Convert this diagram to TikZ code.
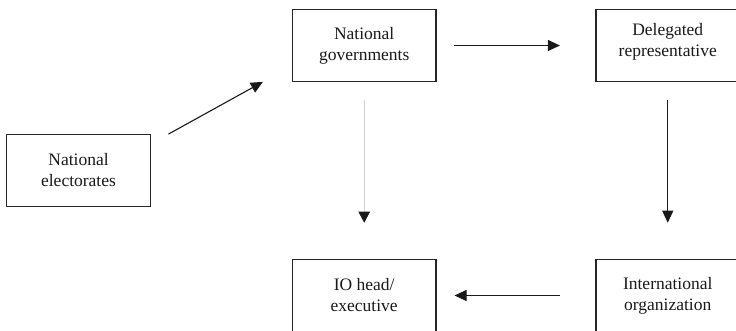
\documentclass[tikz,border=0pt]{standalone}
\usepackage{fontspec}
\setmainfont{Liberation Serif}
\usetikzlibrary{arrows.meta}
\begin{document}
\begin{tikzpicture}[x=1pt,y=-1pt,
  box/.style={draw=black!85, line width=1.2pt, minimum width=143.5pt, minimum height=71.6pt,
    inner sep=0pt, align=center, font=\fontsize{17.5pt}{21pt}\selectfont, text=black!90},
  arr/.style={line width=1.1pt, draw=black!90, -{Triangle[length=12pt,width=11pt]}},
  faint/.style={line width=0.8pt, draw=black!18, -{Triangle[length=11pt,width=11.5pt,color=black!90,fill=black!90]}}]
\useasboundingbox (0,0) rectangle (736,330);
% boxes
\node[box] (NE)  at (78.5,170.5)  {National\\electorates};
\node[box] (NG)  at (364.2,45.5)  {National\\governments};
\node[box, text depth=11.8pt] (DR) at (667.75,45.5) {Delegated\\representative};
\node[box] (IOH) at (364.2,295.5) {IO head/\\executive};
\node[box] (IO)  at (667.75,295.5) {International\\organization};
% connector end points off the box corners
\coordinate (neOut) at ([xshift=17.6pt]NE.north east);
\coordinate (ngIn)  at ([xshift=-29pt]NG.south west);
% connectors
\draw[arr] (neOut) -- (ngIn);
\draw[arr] ([xshift=17pt]NG.east) -- ([xshift=-35.5pt]DR.west);
\draw[faint] ([yshift=-18pt]NG.south) -- ([yshift=36.4pt]IOH.north);
\draw[arr] ([yshift=-18pt]DR.south) -- ([yshift=36.4pt]IO.north);
\draw[arr] ([xshift=-35pt]IO.west) -- ([xshift=18pt]IOH.east);
\end{tikzpicture}
\end{document}
